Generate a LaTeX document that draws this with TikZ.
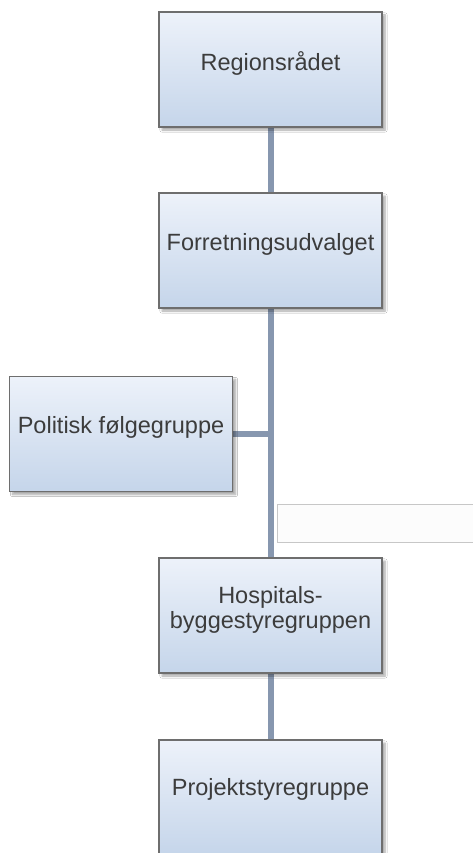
\documentclass[tikz,border=0pt]{standalone}
\usepackage{fontspec}
\setmainfont{Liberation Sans}
\usetikzlibrary{shadows.blur}
\pgfdeclarelayer{bg}
\pgfsetlayers{bg,main}
\definecolor{boxtop}{HTML}{EDF2FA}
\definecolor{boxbot}{HTML}{C5D5EA}
\definecolor{boxline}{HTML}{6E6E6E}
\definecolor{conn}{HTML}{8797AF}
\definecolor{txt}{HTML}{3C3C3C}
\begin{document}
\begin{tikzpicture}[x=1pt,y=-1pt,
  orgbox/.style={draw=boxline, line width=1.3pt, top color=boxtop, bottom color=boxbot,
    minimum width=223pt, minimum height=115pt, inner sep=0pt,
    blur shadow={shadow xshift=3pt, shadow yshift=-3pt, shadow blur steps=6, shadow opacity=35}},
  lbl/.style={font=\fontsize{23.5}{25}\selectfont, text=txt, align=center, inner sep=0pt},
  connector/.style={draw=conn, line width=6pt}]
\useasboundingbox (0,0) rectangle (473,853);
\clip (0,0) rectangle (473,853);
\fill[white] (0,0) rectangle (473,853);
% placeholders fixing positions of the boxes (drawn later, on top of connectors)
\path (270.5,69.5) node[minimum width=223pt, minimum height=115pt, inner sep=0pt] (reg) {}
      (270.5,250.5) node[minimum width=223pt, minimum height=115pt, inner sep=0pt] (forr) {}
      (121,434) node[minimum width=223pt, minimum height=115pt, inner sep=0pt] (pol) {}
      (270.5,615.5) node[minimum width=223pt, minimum height=115pt, inner sep=0pt] (hosp) {}
      (270.5,797.5) node[minimum width=223pt, minimum height=115pt, inner sep=0pt] (proj) {};
\draw[connector] (reg) -- (forr);
\draw[connector] (forr) -- (hosp);
\draw[connector] (pol) -- (pol -| forr);
\draw[connector] (hosp) -- (proj);
\node[orgbox] (regbox) at (reg) {};
\node[orgbox] (forrbox) at (forr) {};
\node[orgbox] (polbox) at (pol) {};
\node[orgbox] (hospbox) at (hosp) {};
\node[orgbox] (projbox) at (proj) {};
\node[lbl] (t1) at ([yshift=6pt]reg.center) {Regionsrådet};
\node[lbl] (t2) at ([yshift=6pt]forr.center) {Forretningsudvalget};
\node[lbl] (t3) at ([yshift=7pt]pol.center) {Politisk følgegruppe};
\node[lbl] (t4) at ([yshift=6pt]hosp.center) {Hospitals-\\byggestyregruppen};
\node[lbl] (t5) at ([yshift=8pt]proj.center) {Projektstyregruppe};
% empty box
\node[draw=black!22, fill=black!1, line width=0.8pt, minimum width=210pt, minimum height=38pt, inner sep=0pt, anchor=north west] (empty) at (277,504) {};
\end{tikzpicture}
\end{document}
